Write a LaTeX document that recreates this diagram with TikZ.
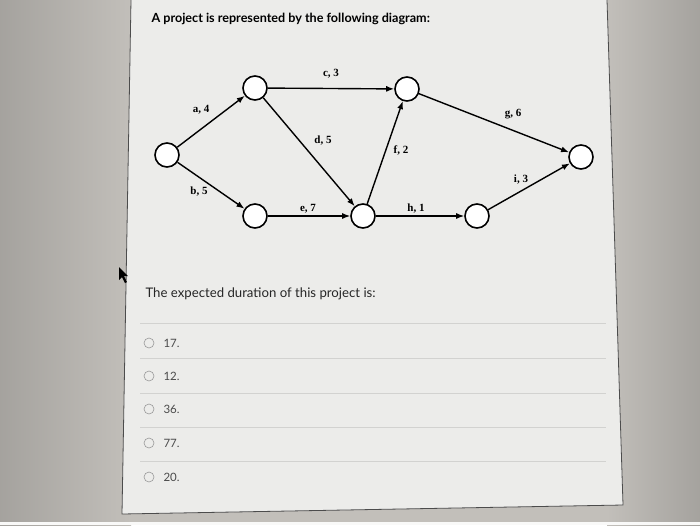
\documentclass[tikz,border=0pt]{standalone}
\usepackage{fontspec}
\setmainfont{Lato}
\newfontfamily\graphfont{Liberation Serif}
\usetikzlibrary{arrows.meta}

\definecolor{outside}{HTML}{C2BFBA}
\definecolor{panel}{HTML}{ECECEA}
\definecolor{rule}{HTML}{D2D2D0}
\definecolor{optgrey}{HTML}{4A4A4A}

\begin{document}
\begin{tikzpicture}
        [
          x=1pt, y=-1pt,
          event/.style={circle,draw=black,line width=1.6pt,fill=white,minimum size=24pt,inner sep=0pt},
          act/.style={-{Latex[length=8pt,width=6pt]},line width=1.4pt},
          lab/.style={font=\graphfont\bfseries\fontsize{11}{11}\selectfont},
          radio/.style={circle,draw=black!40,line width=0.6pt,minimum size=10pt,inner sep=0pt},
          choice/.style={anchor=west,text=optgrey,font=\fontsize{11.5}{13}\selectfont}
        ]
        \useasboundingbox (0,0) rectangle (700,525);
        % page
        \fill[outside] (0,0) rectangle (700,525);
        \shade[left color=outside!85!black, right color=outside] (0,0) rectangle (131,525);
        \shade[left color=outside, right color=outside!85!black] (607,0) rectangle (700,525);
        \fill[panel] (131,0) -- (607,0) -- (623,505) -- (122,514) -- cycle;
        \draw[black!70,line width=0.8pt] (131,0) -- (122,514) -- (623,505) -- (607,0);
        \fill[white!90!outside] (0,522) rectangle (700,525);
        % question
        \node[anchor=west,font=\bfseries\fontsize{12.6}{15}\selectfont] (title) at (148,19)
          {A project is represented by the following diagram:};
        % events
        \node[event] (n1) at (167,155) {};
        \node[event] (n2) at (255,88) {};
        \node[event] (n3) at (255,216) {};
        \node[event] (n4) at (407,89) {};
        \node[event] (n5) at (363,216) {};
        \node[event] (n6) at (477,216) {};
        \node[event] (n7) at (581,157) {};
        % activities
        \draw[act] (n1) -- (n2);
        \draw[act] (n1) -- (n3);
        \draw[act] (n2) -- (n4);
        \draw[act] (n2) -- (n5);
        \draw[act] (n3) -- (n5);
        \draw[act] (n5) -- (n4);
        \draw[act] (n4) -- (n7);
        \draw[act] (n5) -- (n6);
        \draw[act] (n6) -- (n7);
        % labels
        \node[lab] (la) at (201,110) {a, 4};
        \node[lab] (lb) at (199,192) {b, 5};
        \node[lab] (lc) at (331,74) {c, 3};
        \node[lab] (ld) at (323,141) {d, 5};
        \node[lab] (le) at (308,209) {e, 7};
        \node[lab] (lf) at (401,150) {f, 2};
        \node[lab] (lg) at (513,114) {g, 6};
        \node[lab] (lh) at (416,209) {h, 1};
        \node[lab] (li) at (521,180) {i, 3};
        % pointer
        \fill[black] (119,267) -- (119,280) -- (122,277) -- (125,283) -- (127,282) -- (124,276) -- (128,276) -- cycle;
        % answers
        \node[anchor=west,font=\fontsize{13.2}{15}\selectfont,text=black!85] (ask) at (142,294)
          {The expected duration of this project is:};
        \foreach \y in {323,358,393,427,461} {
            \draw[rule,line width=0.6pt] (140,\y) -- (606,\y);
        }
        \foreach \y/\v in {343/17,376/12,409/36,443/77,477/20} {
            \node[radio] (r\v) at (149,\y) {};
            \node[choice] (c\v) at (160,\y) {\v.};
        }
      \end{tikzpicture}
\end{document}
